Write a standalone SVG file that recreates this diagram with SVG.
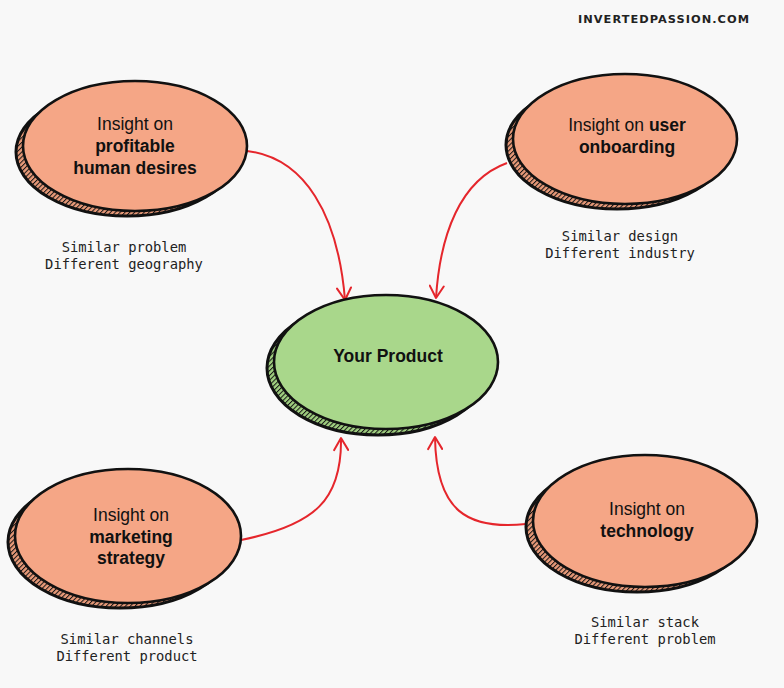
<svg xmlns="http://www.w3.org/2000/svg" width="784" height="688" viewBox="0 0 784 688">
<defs>
  <pattern id="hatchS" width="3.4" height="3.4" patternUnits="userSpaceOnUse" patternTransform="rotate(45)">
    <rect width="3.4" height="3.4" fill="#e89a79"/>
    <line x1="0" y1="0" x2="0" y2="3.4" stroke="#141414" stroke-width="2"/>
  </pattern>
  <pattern id="hatchG" width="3.4" height="3.4" patternUnits="userSpaceOnUse" patternTransform="rotate(45)">
    <rect width="3.4" height="3.4" fill="#a0cf80"/>
    <line x1="0" y1="0" x2="0" y2="3.4" stroke="#141414" stroke-width="2"/>
  </pattern>
  <marker id="arr" viewBox="0 0 16 16" refX="14" refY="8" markerWidth="16" markerHeight="16" markerUnits="userSpaceOnUse" orient="auto">
    <path d="M2,1 L14,8 L2,15" fill="none" stroke="#e5262c" stroke-width="2" stroke-linecap="round" stroke-linejoin="round"/>
  </marker>
  <style>
    .bg{fill:#f8f8f8}
    .shS{fill:url(#hatchS);stroke:#111;stroke-width:3}
    .shG{fill:url(#hatchG);stroke:#111;stroke-width:3}
    .mainS{fill:#f5a686;stroke:#111;stroke-width:2.6}
    .mainG{fill:#a9d78b;stroke:#111;stroke-width:2.6}
    .t{font-family:"Liberation Sans",Arial,sans-serif;font-size:17.5px;fill:#111;text-anchor:middle}
    .b{font-weight:bold}
    .lbl{font-family:"DejaVu Sans Mono","Liberation Mono",monospace;font-size:13.8px;fill:#222;text-anchor:middle}
    .wm{font-family:"DejaVu Sans","Liberation Sans",sans-serif;font-size:11px;font-weight:bold;fill:#222;letter-spacing:1px}
    .con{fill:none;stroke:#e5262c;stroke-width:2;marker-end:url(#arr)}
  </style>
</defs>
<rect class="bg" x="0" y="0" width="784" height="688"/>
<text class="wm" x="578" y="23" textLength="172" lengthAdjust="spacingAndGlyphs">INVERTEDPASSION.COM</text>

<g id="connectors">
  <path class="con" d="M247,151 C305,158 338,215 345,300"/>
  <path class="con" d="M507,163 C460,180 440,235 436,298"/>
  <path class="con" d="M241,540 C315,525 342,500 341,438"/>
  <path class="con" d="M526,524 C468,530 436,512 435,437"/>
</g>

<g id="node-product">
  <ellipse class="shG" cx="378" cy="368" rx="111" ry="67"/>
  <ellipse class="mainG" cx="386" cy="362" rx="112" ry="67"/>
  <text class="t b" x="388" y="362">Your Product</text>
</g>

<g id="node-desires">
  <ellipse class="shS" cx="127" cy="152" rx="111" ry="64"/>
  <ellipse class="mainS" cx="135" cy="146" rx="112" ry="65"/>
  <text class="t" x="135" y="130">Insight on</text>
  <text class="t b" x="135" y="152">profitable</text>
  <text class="t b" x="135" y="174">human desires</text>
  <text class="lbl" x="124" y="252">Similar problem</text>
  <text class="lbl" x="124" y="269">Different geography</text>
</g>

<g id="node-onboarding">
  <ellipse class="shS" cx="617" cy="145" rx="111" ry="64"/>
  <ellipse class="mainS" cx="625" cy="139" rx="112" ry="65"/>
  <text class="t" x="627" y="131">Insight on <tspan class="b">user</tspan></text>
  <text class="t b" x="627" y="153">onboarding</text>
  <text class="lbl" x="620" y="241">Similar design</text>
  <text class="lbl" x="620" y="258">Different industry</text>
</g>

<g id="node-marketing">
  <ellipse class="shS" cx="120" cy="542" rx="112" ry="66"/>
  <ellipse class="mainS" cx="128" cy="536" rx="113" ry="67"/>
  <text class="t" x="131" y="521">Insight on</text>
  <text class="t b" x="131" y="543">marketing</text>
  <text class="t b" x="131" y="564">strategy</text>
  <text class="lbl" x="127" y="644">Similar channels</text>
  <text class="lbl" x="127" y="661">Different product</text>
</g>

<g id="node-technology">
  <ellipse class="shS" cx="637" cy="527" rx="111" ry="65"/>
  <ellipse class="mainS" cx="645" cy="521" rx="112" ry="66"/>
  <text class="t" x="647" y="515">Insight on</text>
  <text class="t b" x="647" y="537">technology</text>
  <text class="lbl" x="645" y="627">Similar stack</text>
  <text class="lbl" x="645" y="644">Different problem</text>
</g>
</svg>
